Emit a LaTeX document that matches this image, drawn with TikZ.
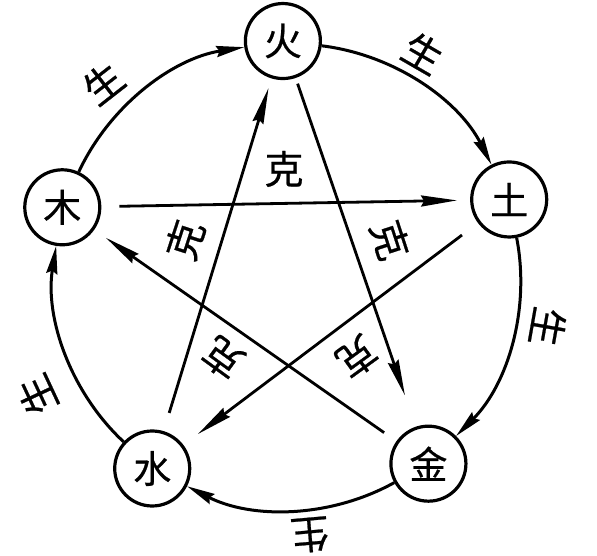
\documentclass[tikz,border=0pt]{standalone}
\usepackage{fontspec}
\newfontfamily\cjk{Noto Sans CJK SC}[FakeBold=0.6]
\usetikzlibrary{arrows.meta}
\begin{document}
\begin{tikzpicture}[x=1pt,y=1pt,
  el/.style={circle,draw,line width=3.2pt,minimum size=75pt,inner sep=0pt,font=\cjk\fontsize{38}{38}\selectfont},
  lbl/.style={inner sep=0pt,font=\cjk\fontsize{39}{39}\selectfont},
  rim/.style={line width=3pt,-{Stealth[length=28pt,width=11pt,inset=3pt]}},
  kline/.style={line width=2.8pt,-{Stealth[length=36pt,width=11pt,inset=3pt]}}]
\useasboundingbox (0,0) rectangle (597,556);
\coordinate (C) at (287,280);
\node[el] (huo) at ([shift={(91:235)}]C) {火};
\node[el] (tu)  at ([shift={(19:235)}]C) {土};
\node[el] (jin) at ([shift={(-53:235)}]C) {金};
\node[el] (shui) at ([shift={(-125:235)}]C) {水};
\node[el] (mu)  at ([shift={(163:235)}]C) {木};
% sheng cycle
\draw[rim] (mu) to[bend left=28, looseness=0.9] (huo);
\draw[rim] (huo) to[bend left=28, looseness=0.9] (tu);
\draw[rim] (tu) to[bend left=28, looseness=0.9] (jin);
\draw[rim] (jin) to[bend left=28, looseness=0.9] (shui);
\draw[rim] (shui) to[bend left=28, looseness=0.9] (mu);
% ke cycle
\draw[kline, shorten <=18pt, shorten >=13pt] (mu) -- (tu);
\draw[kline, shorten <=20pt, shorten >=18pt] (tu) -- (shui);
\draw[kline, shorten <=19pt, shorten >=10pt] (shui) -- (huo);
\draw[kline, shorten <=6pt, shorten >=33pt] (huo) -- (jin);
\draw[kline, shorten <=15pt, shorten >=14pt] (jin) -- (mu);
% labels
\node[lbl, rotate=38]   (s1) at (103,473) {生};
\node[lbl, rotate=-30]  (s2) at (423,503) {生};
\node[lbl, rotate=-100] (s3) at (548,229) {生};
\node[lbl, rotate=-175] (s4) at (310,21)  {生};
\node[lbl, rotate=115]  (s5) at (37,161)  {生};
\node[lbl]              (k1) at (284,387) {克};
\node[lbl, rotate=72]   (k2) at (185,316) {克};
\node[lbl, rotate=-72]  (k3) at (390,316) {克};
\node[lbl, rotate=-144] (k4) at (357,199) {克};
\node[lbl, rotate=144]  (k5) at (223,198) {克};
\end{tikzpicture}
\end{document}
